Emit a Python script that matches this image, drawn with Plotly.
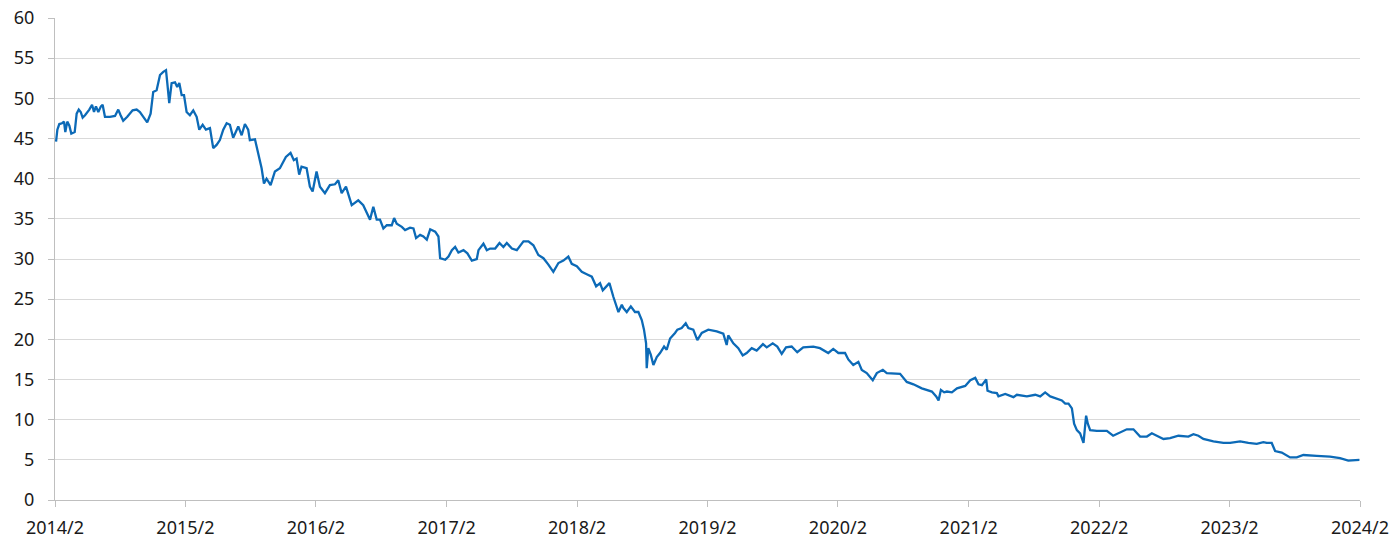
import pandas as pd
import plotly.graph_objects as go

# time as decimal year
t = [
    2014.093, 2014.103, 2014.118, 2014.139, 2014.154, 2014.164, 2014.179, 2014.195, 2014.210, 2014.236,
    2014.251, 2014.267, 2014.282, 2014.297, 2014.315, 2014.348, 2014.369, 2014.384, 2014.399, 2014.417,
    2014.437, 2014.450, 2014.468, 2014.506, 2014.545, 2014.570, 2014.588, 2014.608, 2014.639, 2014.680,
    2014.711, 2014.736, 2014.762, 2014.792, 2014.818, 2014.838, 2014.864, 2014.890, 2014.915, 2014.936,
    2014.946, 2014.961, 2014.979, 2015.005, 2015.022, 2015.038, 2015.056, 2015.074, 2015.094, 2015.119,
    2015.145, 2015.171, 2015.191, 2015.217, 2015.242, 2015.273, 2015.298, 2015.324, 2015.349, 2015.375,
    2015.401, 2015.426, 2015.451, 2015.490, 2015.516, 2015.541, 2015.566, 2015.579, 2015.618, 2015.656,
    2015.669, 2015.687, 2015.707, 2015.738, 2015.771, 2015.809, 2015.834, 2015.855, 2015.891, 2015.916,
    2015.937, 2015.957, 2015.975, 2016.014, 2016.039, 2016.060, 2016.090, 2016.116, 2016.154, 2016.192,
    2016.231, 2016.256, 2016.282, 2016.315, 2016.359, 2016.409, 2016.447, 2016.474, 2016.499, 2016.524,
    2016.550, 2016.575, 2016.601, 2016.627, 2016.665, 2016.683, 2016.703, 2016.742, 2016.767, 2016.805,
    2016.831, 2016.851, 2016.882, 2016.907, 2016.933, 2016.959, 2016.997, 2017.022, 2017.035, 2017.074,
    2017.099, 2017.125, 2017.150, 2017.175, 2017.214, 2017.244, 2017.278, 2017.316, 2017.329, 2017.367,
    2017.393, 2017.418, 2017.457, 2017.490, 2017.520, 2017.546, 2017.585, 2017.623, 2017.674, 2017.712,
    2017.750, 2017.788, 2017.827, 2017.865, 2017.903, 2017.942, 2017.980, 2018.018, 2018.044, 2018.083,
    2018.121, 2018.159, 2018.198, 2018.231, 2018.261, 2018.282, 2018.333, 2018.363, 2018.402, 2018.428,
    2018.440, 2018.466, 2018.497, 2018.529, 2018.555, 2018.581, 2018.598, 2018.614, 2018.619, 2018.631,
    2018.650, 2018.670, 2018.696, 2018.721, 2018.752, 2018.772, 2018.798, 2018.836, 2018.854, 2018.887,
    2018.918, 2018.938, 2018.976, 2019.007, 2019.041, 2019.091, 2019.156, 2019.206, 2019.232, 2019.244,
    2019.283, 2019.321, 2019.355, 2019.385, 2019.424, 2019.462, 2019.510, 2019.539, 2019.585, 2019.620,
    2019.654, 2019.687, 2019.730, 2019.773, 2019.819, 2019.896, 2019.947, 2020.011, 2020.049, 2020.088,
    2020.139, 2020.164, 2020.202, 2020.241, 2020.267, 2020.305, 2020.351, 2020.382, 2020.428, 2020.458,
    2020.560, 2020.611, 2020.662, 2020.726, 2020.803, 2020.836, 2020.854, 2020.872, 2020.897, 2020.918,
    2020.956, 2020.995, 2021.058, 2021.097, 2021.135, 2021.160, 2021.186, 2021.219, 2021.229, 2021.263,
    2021.301, 2021.313, 2021.365, 2021.428, 2021.454, 2021.531, 2021.595, 2021.633, 2021.671, 2021.710,
    2021.761, 2021.799, 2021.825, 2021.850, 2021.876, 2021.893, 2021.914, 2021.939, 2021.965, 2021.985,
    2021.998, 2022.016, 2022.067, 2022.144, 2022.192, 2022.246, 2022.297, 2022.348, 2022.399, 2022.451,
    2022.489, 2022.527, 2022.578, 2022.629, 2022.693, 2022.769, 2022.808, 2022.846, 2022.884, 2022.961,
    2023.038, 2023.089, 2023.166, 2023.229, 2023.293, 2023.344, 2023.370, 2023.408, 2023.434, 2023.485,
    2023.549, 2023.600, 2023.651, 2023.753, 2023.855, 2023.932, 2023.995, 2024.080,
]
values = [
    44.6, 46.1, 46.8, 46.9, 47.1, 45.8, 47.1, 46.6, 45.6, 45.8,
    48.1, 48.6, 48.3, 47.6, 47.9, 48.6, 49.2, 48.3, 49.0, 48.3,
    49.0, 49.2, 47.7, 47.7, 47.8, 48.6, 47.9, 47.2, 47.7, 48.5,
    48.6, 48.3, 47.7, 47.0, 48.1, 50.8, 51.0, 52.9, 53.3, 53.5,
    51.9, 49.4, 51.9, 52.0, 51.4, 51.9, 50.4, 50.4, 48.3, 47.9,
    48.5, 47.7, 46.1, 46.7, 46.1, 46.3, 43.8, 44.2, 44.8, 46.1,
    46.9, 46.7, 45.1, 46.5, 45.4, 46.8, 46.1, 44.8, 44.9, 41.9,
    41.3, 39.4, 40.0, 39.2, 40.9, 41.3, 42.1, 42.7, 43.2, 42.3,
    42.5, 40.5, 41.5, 41.3, 39.0, 38.4, 40.9, 39.0, 38.2, 39.2,
    39.3, 39.8, 38.2, 39.0, 36.7, 37.3, 36.7, 35.7, 34.9, 36.5,
    34.9, 34.9, 33.8, 34.2, 34.2, 35.1, 34.4, 34.0, 33.6, 33.9,
    33.8, 32.6, 33.0, 32.8, 32.4, 33.7, 33.4, 32.8, 30.1, 29.9,
    30.3, 31.1, 31.5, 30.8, 31.1, 30.7, 29.8, 30.0, 31.1, 31.9,
    31.1, 31.3, 31.3, 32.0, 31.5, 32.0, 31.3, 31.1, 32.2, 32.2,
    31.7, 30.5, 30.1, 29.3, 28.4, 29.5, 29.8, 30.3, 29.4, 29.1,
    28.4, 28.1, 27.8, 26.6, 27.0, 26.1, 27.0, 25.3, 23.4, 24.3,
    23.9, 23.4, 24.1, 23.4, 23.4, 22.4, 21.2, 19.5, 16.4, 18.9,
    18.1, 16.8, 17.8, 18.3, 19.1, 18.7, 20.1, 20.8, 21.2, 21.4,
    22.0, 21.4, 21.2, 19.9, 20.8, 21.2, 21.0, 20.7, 19.3, 20.5,
    19.5, 18.9, 18.0, 18.3, 18.9, 18.6, 19.4, 19.0, 19.5, 19.1,
    18.2, 19.0, 19.1, 18.4, 19.0, 19.1, 18.9, 18.3, 18.8, 18.3,
    18.3, 17.5, 16.8, 17.2, 16.2, 15.8, 14.9, 15.8, 16.2, 15.8,
    15.7, 14.7, 14.4, 13.9, 13.5, 12.9, 12.4, 13.7, 13.4, 13.5,
    13.4, 13.9, 14.2, 14.9, 15.2, 14.4, 14.3, 15.0, 13.6, 13.4,
    13.3, 12.9, 13.2, 12.8, 13.1, 12.9, 13.1, 12.9, 13.4, 12.9,
    12.6, 12.4, 12.0, 12.0, 11.4, 9.5, 8.7, 8.3, 7.1, 10.5,
    9.5, 8.7, 8.6, 8.6, 8.0, 8.4, 8.8, 8.8, 7.9, 7.9,
    8.3, 8.0, 7.6, 7.7, 8.0, 7.9, 8.2, 8.0, 7.6, 7.3,
    7.1, 7.1, 7.3, 7.1, 7.0, 7.2, 7.1, 7.1, 6.1, 5.9,
    5.3, 5.3, 5.6, 5.5, 5.4, 5.2, 4.9, 5.0,
]

tick_dates = [f"{y}-02-01" for y in range(2014, 2025)]
tick_labels = [f"{y}/2" for y in range(2014, 2025)]


def to_date(x):
    y = int(x)
    start = pd.Timestamp(y, 1, 1)
    days = (pd.Timestamp(y + 1, 1, 1) - start).days
    return start + pd.Timedelta(days=(x - y) * days)


dates = [to_date(x) for x in t]

fig = go.Figure()
fig.add_trace(go.Scatter(x=dates, y=values, mode="lines",
                         line=dict(color="#0c6ab7", width=2.3)))

fig.update_layout(
    width=1399, height=546,
    margin=dict(l=55, r=39, t=18, b=46),
    plot_bgcolor="white", paper_bgcolor="white",
    showlegend=False,
    font=dict(family="Noto Sans", size=18, color="#1a1a1a"),
)
fig.update_xaxes(
    range=[tick_dates[0], tick_dates[-1]],
    tickvals=tick_dates, ticktext=tick_labels,
    showgrid=False, showline=True, linecolor="#bfbfbf", linewidth=1,
    ticks="outside", ticklen=6, tickcolor="#bfbfbf",
    ticklabelstandoff=5, automargin=False,
)
fig.update_yaxes(
    range=[0, 60], dtick=5,
    showgrid=True, gridcolor="#d9d9d9", gridwidth=1, zeroline=False,
    showline=True, linecolor="#bfbfbf", linewidth=1,
    ticks="outside", ticklen=6, tickcolor="#bfbfbf",
    ticklabelstandoff=10, automargin=False,
)

# drop the default page margin so the figure sits at the window's corner
fig.write_html("out.html", config={"displayModeBar": False},
               post_script="document.body.style.margin='0';")
